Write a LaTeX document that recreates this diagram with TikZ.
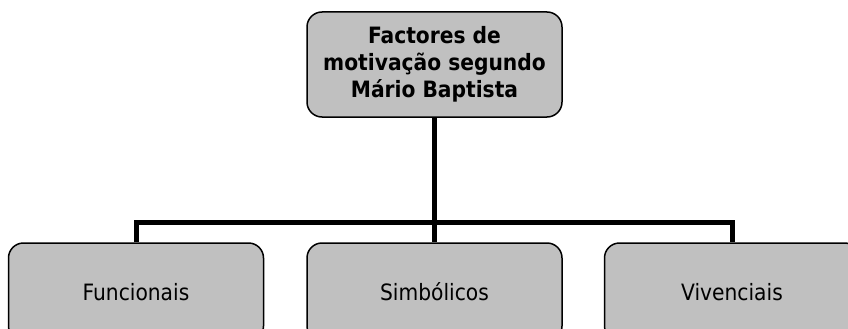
\documentclass[tikz,border=0pt]{standalone}
\usepackage{fontspec}
\setmainfont{DejaVu Sans Condensed}
\usetikzlibrary{positioning}
\definecolor{boxgray}{RGB}{192,192,192}

\tikzset{
    factor/.style={draw, fill=boxgray, line width=1.5pt, rounded corners=15pt,
        minimum width=255pt, minimum height=98pt, align=center,
        font=\fontsize{22.5pt}{27pt}\selectfont},
    title/.style={factor, minimum height=105pt, font=\fontsize{22.5pt}{27pt}\selectfont\bfseries},
    bus/.style={line width=5pt}
}

\begin{document}
\begin{tikzpicture}[x=1pt, y=1pt]
    \useasboundingbox (0,0) rectangle (848,-329);
    \clip (0,0) rectangle (848,-329);

    \node[factor] (simb) at (434.5,-292) {Simbólicos};
    \node[factor, left = 42pt of simb] (func) {Funcionais};
    \node[factor, right = 41pt of simb] (viv) {Vivenciais};
    \node[title] (fact) at (434.5,-64.5) {Factores de\\motivação segundo\\Mário Baptista};

    \coordinate (split) at (434.5,-222);
    \draw[bus] (fact.south) -- (simb.north);
    \draw[bus] (func.north) |- (split) -| (viv.north);
\end{tikzpicture}
\end{document}
